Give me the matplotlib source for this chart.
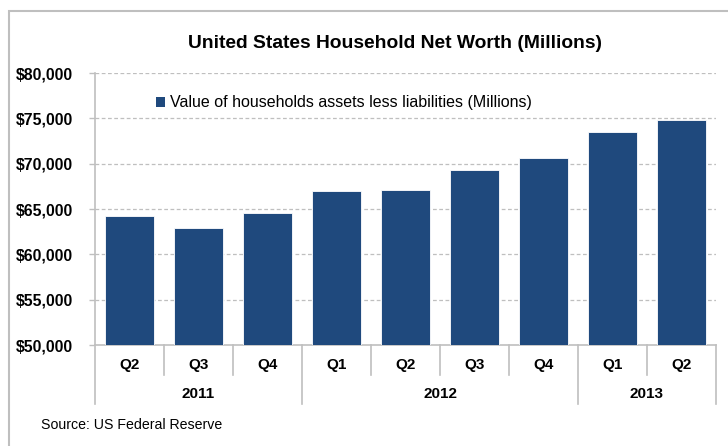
import matplotlib
matplotlib.use("Agg")
import matplotlib.pyplot as plt
from matplotlib.patches import Patch, Rectangle
from matplotlib.ticker import FuncFormatter, MultipleLocator
from matplotlib.transforms import blended_transform_factory

plt.rcParams['font.family'] = ['Liberation Sans', 'DejaVu Sans']

# Household net worth by quarter (millions)
quarters = ["Q2", "Q3", "Q4", "Q1", "Q2", "Q3", "Q4", "Q1", "Q2"]
years = ["2011", "2012", "2013"]
quarters_per_year = [3, 4, 2]
net_worth = [64200, 62900, 64600, 67000, 67100, 69300, 70600, 73500, 74800]

title = "United States Household Net Worth (Millions)"
series_label = "Value of households assets less liabilities (Millions)"
source = "Source: US Federal Reserve"

W, H, DPI = 728, 446, 100
bar_color = "#1f497d"
grey = "#bfbfbf"

fig = plt.figure(figsize=(W / DPI, H / DPI), dpi=DPI)

# chart frame
fig.patches.append(Rectangle((9 / W, -0.1), 1.2, (H - 11) / H + 0.1,
                             transform=fig.transFigure, fill=False,
                             edgecolor=grey, linewidth=1.5))

ax_l, ax_r, ax_top, ax_bot = 95, 716, 73, 345
ax = fig.add_axes([ax_l / W, 1 - ax_bot / H, (ax_r - ax_l) / W, (ax_bot - ax_top) / H])

x = list(range(len(net_worth)))
ax.bar(x, net_worth, width=0.72, color=bar_color, edgecolor="white",
       linewidth=0.6, zorder=3)

ax.set_xlim(-0.5, len(net_worth) - 0.5)
ax.set_ylim(50000, 80000)
ax.yaxis.set_major_locator(MultipleLocator(5000))
ax.yaxis.set_major_formatter(FuncFormatter(lambda v, p: f"${v:,.0f}"))
ax.tick_params(axis="y", direction="out", length=4, color=grey, width=1,
               pad=12, labelsize=11.4)
for lab in ax.get_yticklabels():
    lab.set_fontweight("bold")
ax.set_xticks([])

for s in ["top", "right"]:
    ax.spines[s].set_visible(False)
for s in ["left", "bottom"]:
    ax.spines[s].set_color(grey)
    ax.spines[s].set_linewidth(1.2)

# dashed gridlines
for v in range(55000, 80001, 5000):
    ax.axhline(v, color=grey, linestyle=(0, (3, 2)), linewidth=0.9, zorder=1)

# two-level category axis
ax_h = ax_bot - ax_top
trans = blended_transform_factory(ax.transData, ax.transAxes)
q_drop = 30 / ax_h
y_drop = 59 / ax_h
year_bounds = [-0.5]
for n in quarters_per_year:
    year_bounds.append(year_bounds[-1] + n)
for b in [i - 0.5 for i in range(len(quarters) + 1)]:
    depth = y_drop if b in year_bounds else q_drop
    ax.plot([b, b], [0, -depth], color=grey, linewidth=1.2,
            transform=trans, clip_on=False)
for i, q in enumerate(quarters):
    ax.text(i, -20 / ax_h, q, transform=trans, ha="center", va="center",
            fontsize=11, fontweight="bold")
for k, yr in enumerate(years):
    mid = (year_bounds[k] + year_bounds[k + 1]) / 2
    ax.text(mid, -49 / ax_h, yr, transform=trans, ha="center", va="center",
            fontsize=11, fontweight="bold")

fig.text(395 / W, 1 - 43 / H, title, ha="center", va="center",
         fontsize=13.9, fontweight="bold")

ax.legend(handles=[Patch(facecolor=bar_color, edgecolor="none", label=series_label)],
          loc="center left", bbox_to_anchor=(156 / W, 1 - 103 / H),
          bbox_transform=fig.transFigure, frameon=False, fontsize=11.5,
          handlelength=0.55, handleheight=0.55, handletextpad=0.3,
          borderpad=0, borderaxespad=0)

fig.text(41 / W, 1 - 425 / H, source, ha="left", va="center", fontsize=10.2)

fig.savefig("out.png", dpi=DPI)
